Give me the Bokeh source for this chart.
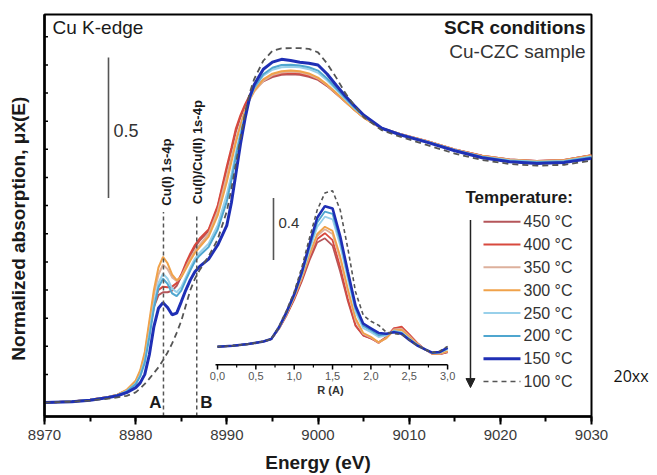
from bokeh.plotting import figure
from bokeh.models import (Range1d, Label, Arrow, NormalHead, SingleIntervalTicker, FixedTicker,
                          LinearAxis)
from bokeh.core.properties import value
from bokeh.embed import file_html
from bokeh.resources import INLINE

# ---------------- data ----------------
energy = [8970, 8973, 8975, 8977, 8978, 8979, 8980, 8980.5, 8981, 8981.5, 8982, 8982.5,
          8983, 8983.5, 8984, 8984.5, 8985, 8985.5, 8986, 8986.5, 8987, 8988, 8989, 8990,
          8990.5, 8991, 8991.5, 8992, 8992.5, 8993, 8994, 8995, 8996, 8997, 8998, 8999,
          9000, 9001, 9002, 9003, 9004, 9005, 9007, 9009, 9012, 9015, 9018, 9021, 9024,
          9027, 9030]

xanes_450 = [0.000, 0.004, 0.010, 0.019, 0.027, 0.041, 0.070, 0.102, 0.158, 0.250, 0.340, 0.382,
             0.392, 0.392, 0.398, 0.415, 0.448, 0.488, 0.523, 0.553, 0.575, 0.610, 0.695, 0.830,
             0.895, 0.965, 1.015, 1.055, 1.088, 1.112, 1.142, 1.157, 1.165, 1.167, 1.165, 1.158,
             1.147, 1.125, 1.098, 1.069, 1.041, 1.014, 0.975, 0.955, 0.929, 0.900, 0.877, 0.864,
             0.859, 0.862, 0.879]
xanes_400 = [0.000, 0.004, 0.010, 0.020, 0.028, 0.042, 0.072, 0.105, 0.162, 0.258, 0.355, 0.400,
             0.412, 0.410, 0.412, 0.425, 0.455, 0.495, 0.530, 0.560, 0.582, 0.615, 0.700, 0.840,
             0.905, 0.975, 1.022, 1.060, 1.092, 1.118, 1.147, 1.162, 1.170, 1.172, 1.170, 1.162,
             1.150, 1.127, 1.099, 1.070, 1.041, 1.014, 0.975, 0.955, 0.929, 0.900, 0.877, 0.864,
             0.859, 0.862, 0.879]
xanes_350 = [0.000, 0.004, 0.010, 0.020, 0.028, 0.044, 0.075, 0.110, 0.172, 0.278, 0.385, 0.455,
             0.490, 0.475, 0.445, 0.432, 0.448, 0.480, 0.512, 0.540, 0.560, 0.600, 0.680, 0.805,
             0.870, 0.935, 0.990, 1.038, 1.076, 1.105, 1.143, 1.164, 1.173, 1.176, 1.174, 1.166,
             1.152, 1.128, 1.099, 1.069, 1.040, 1.013, 0.974, 0.954, 0.928, 0.899, 0.876, 0.863,
             0.858, 0.861, 0.877]
xanes_300 = [0.000, 0.004, 0.010, 0.020, 0.028, 0.045, 0.078, 0.115, 0.180, 0.290, 0.400, 0.480,
             0.518, 0.495, 0.455, 0.435, 0.445, 0.475, 0.505, 0.532, 0.552, 0.590, 0.665, 0.785,
             0.855, 0.925, 0.985, 1.036, 1.077, 1.108, 1.149, 1.169, 1.178, 1.180, 1.178, 1.170,
             1.155, 1.130, 1.100, 1.070, 1.040, 1.013, 0.974, 0.954, 0.928, 0.899, 0.876, 0.863,
             0.858, 0.861, 0.878]
xanes_250 = [0.000, 0.004, 0.009, 0.019, 0.026, 0.040, 0.068, 0.098, 0.150, 0.245, 0.350, 0.425,
             0.458, 0.440, 0.405, 0.392, 0.410, 0.445, 0.480, 0.512, 0.532, 0.565, 0.630, 0.740,
             0.810, 0.890, 0.960, 1.025, 1.080, 1.118, 1.162, 1.183, 1.192, 1.194, 1.192, 1.185,
             1.172, 1.145, 1.112, 1.078, 1.046, 1.017, 0.975, 0.954, 0.927, 0.898, 0.874, 0.861,
             0.856, 0.859, 0.875]
xanes_200 = [0.000, 0.004, 0.009, 0.019, 0.026, 0.039, 0.065, 0.093, 0.142, 0.232, 0.335, 0.410,
             0.440, 0.422, 0.388, 0.378, 0.398, 0.435, 0.470, 0.502, 0.522, 0.553, 0.615, 0.715,
             0.790, 0.875, 0.950, 1.020, 1.080, 1.120, 1.167, 1.190, 1.200, 1.201, 1.198, 1.192,
             1.180, 1.152, 1.117, 1.082, 1.049, 1.019, 0.975, 0.953, 0.926, 0.897, 0.873, 0.859,
             0.854, 0.857, 0.872]
xanes_150 = [0.000, 0.003, 0.008, 0.018, 0.024, 0.035, 0.053, 0.070, 0.100, 0.170, 0.270, 0.335,
             0.355, 0.338, 0.312, 0.318, 0.358, 0.400, 0.436, 0.465, 0.483, 0.510, 0.560, 0.630,
             0.710, 0.815, 0.920, 1.010, 1.085, 1.130, 1.185, 1.210, 1.220, 1.216, 1.210, 1.206,
             1.200, 1.168, 1.128, 1.090, 1.055, 1.022, 0.975, 0.952, 0.925, 0.895, 0.870, 0.856,
             0.850, 0.853, 0.868]
xanes_100 = [0.000, 0.003, 0.007, 0.014, 0.018, 0.024, 0.036, 0.050, 0.066, 0.085, 0.105, 0.125,
             0.150, 0.178, 0.210, 0.248, 0.290, 0.345, 0.400, 0.440, 0.470, 0.520, 0.580, 0.680,
             0.760, 0.850, 0.940, 1.030, 1.100, 1.150, 1.215, 1.250, 1.259, 1.260, 1.260, 1.257,
             1.245, 1.205, 1.155, 1.100, 1.055, 1.015, 0.968, 0.945, 0.915, 0.885, 0.862, 0.848,
             0.842, 0.845, 0.860]

r_dist = [0.0, 0.2, 0.4, 0.6, 0.7, 0.8, 0.9, 1.0, 1.1, 1.2, 1.3, 1.4, 1.5, 1.6, 1.7, 1.8, 1.9,
          2.0, 2.1, 2.2, 2.3, 2.4, 2.5, 2.6, 2.7, 2.8, 2.9, 3.0]
ft_450 = [0.116, 0.122, 0.133, 0.150, 0.165, 0.230, 0.318, 0.420, 0.540, 0.675, 0.790, 0.817, 0.770,
          0.600, 0.410, 0.250, 0.188, 0.170, 0.145, 0.178, 0.235, 0.240, 0.192, 0.140, 0.100, 0.070,
          0.068, 0.080]
ft_400 = [0.116, 0.122, 0.133, 0.150, 0.165, 0.232, 0.322, 0.428, 0.550, 0.690, 0.812, 0.850, 0.805,
          0.630, 0.425, 0.255, 0.190, 0.170, 0.140, 0.175, 0.235, 0.245, 0.195, 0.142, 0.100, 0.070,
          0.068, 0.082]
ft_350 = [0.116, 0.122, 0.133, 0.150, 0.165, 0.233, 0.326, 0.435, 0.560, 0.705, 0.832, 0.876, 0.845,
          0.680, 0.470, 0.285, 0.198, 0.175, 0.142, 0.172, 0.228, 0.232, 0.185, 0.138, 0.100, 0.072,
          0.070, 0.085]
ft_300 = [0.116, 0.122, 0.133, 0.150, 0.165, 0.234, 0.328, 0.438, 0.565, 0.715, 0.845, 0.892, 0.865,
          0.700, 0.490, 0.300, 0.205, 0.180, 0.145, 0.170, 0.222, 0.225, 0.180, 0.135, 0.100, 0.072,
          0.072, 0.088]
ft_250 = [0.116, 0.122, 0.133, 0.150, 0.165, 0.236, 0.332, 0.445, 0.580, 0.740, 0.890, 0.957, 0.940,
          0.770, 0.550, 0.340, 0.235, 0.210, 0.178, 0.190, 0.218, 0.210, 0.170, 0.130, 0.100, 0.075,
          0.078, 0.100]
ft_200 = [0.116, 0.122, 0.133, 0.150, 0.165, 0.238, 0.335, 0.450, 0.590, 0.760, 0.920, 0.990, 0.975,
          0.800, 0.575, 0.360, 0.250, 0.222, 0.190, 0.195, 0.215, 0.205, 0.165, 0.128, 0.100, 0.075,
          0.080, 0.105]
ft_150 = [0.116, 0.122, 0.133, 0.150, 0.165, 0.240, 0.340, 0.455, 0.600, 0.780, 0.950, 1.025, 1.010,
          0.830, 0.600, 0.380, 0.265, 0.235, 0.205, 0.200, 0.210, 0.200, 0.160, 0.125, 0.100, 0.078,
          0.082, 0.110]
ft_100 = [0.116, 0.122, 0.133, 0.150, 0.165, 0.245, 0.350, 0.470, 0.630, 0.820, 1.000, 1.110, 1.125,
          1.000, 0.750, 0.470, 0.320, 0.280, 0.255, 0.210, 0.200, 0.195, 0.160, 0.125, 0.100, 0.078,
          0.088, 0.118]

temps = ["450 °C", "400 °C", "350 °C", "300 °C", "250 °C", "200 °C", "150 °C", "100 °C"]
xanes = [xanes_450, xanes_400, xanes_350, xanes_300, xanes_250, xanes_200, xanes_150, xanes_100]
fts = [ft_450, ft_400, ft_350, ft_300, ft_250, ft_200, ft_150, ft_100]
colors = ["#b5565a", "#d8493e", "#ddb09c", "#f0a24a", "#98d0ea", "#4fa6cf", "#1f2fb5", "#555555"]

x_ticks_major = 10
y_ticks = [0.0, 0.1, 0.2, 0.3, 0.4, 0.5, 0.6, 0.7, 0.8, 0.9, 1.0, 1.1, 1.2, 1.3]
inset_ticks = [0.0, 0.5, 1.0, 1.5, 2.0, 2.5, 3.0]
inset_minor = [0.25, 0.75, 1.25, 1.75, 2.25, 2.75]
inset_tick_labels = ["0,0", "0,5", "1,0", "1,5", "2,0", "2,5", "3,0"]
peak_a = 8983.05
peak_b = 8986.7
side_note = "20xx"

# ---------------- helpers: reference-pixel -> data ----------------
def ex(px):
    return 8970 + (px - 44) / 9.117

def my(py):
    return (403 - py) / 282.0

def rx(px):
    return (px - 217) / 76.7

def fy(py):
    return (365 - py) / 155.0

FONT = "Liberation Sans"

p = figure(width=657, height=475, output_backend="svg", toolbar_location=None,
           x_range=Range1d(8970, 9030), y_range=Range1d(my(417), my(14)),
           min_border_left=44, min_border_right=66, min_border_top=14, min_border_bottom=58)
p.extra_x_ranges = {"r": Range1d(rx(44), rx(591))}
p.extra_y_ranges = {"ft": Range1d(fy(417), fy(14)), "px": Range1d(0, 403)}
p.grid.visible = False
p.outline_line_color = "black"
p.outline_line_width = 2
p.outline_line_alpha = 1
p.background_fill_color = "white"
p.border_fill_color = "white"

xa = p.xaxis[0]
xa.ticker = SingleIntervalTicker(interval=x_ticks_major, num_minor_ticks=2)
xa.major_tick_out = 8
xa.major_tick_in = 0
xa.minor_tick_out = 5
xa.minor_tick_in = 0
xa.axis_line_width = 2.5
xa.major_tick_line_width = 2
xa.minor_tick_line_width = 2
xa.major_label_text_font = FONT
xa.major_label_text_font_size = "15px"
xa.major_label_text_color = "#3a3a3a"
xa.major_label_standoff = 5
xa.axis_label = "Energy (eV)"
xa.axis_label_text_font = FONT
xa.axis_label_text_font_size = "19px"
xa.axis_label_text_font_style = "bold"
xa.axis_label_text_color = "#1a1a1a"
xa.axis_label_standoff = 9

ya = p.yaxis[0]
ya.ticker = FixedTicker(ticks=[])
ya.axis_line_width = 2.5
ya.axis_label = "Normalized absorption, \u03bcx(E)" + "\u00a0" * 5
ya.axis_label_text_font = FONT
ya.axis_label_text_font_size = "19px"
ya.axis_label_text_font_style = "bold"
ya.axis_label_text_color = "#1a1a1a"
ya.axis_label_standoff = 16

# right-hand side note (outside the frame)
ra = LinearAxis(y_range_name="px", ticker=FixedTicker(ticks=[41]),
                major_label_overrides={41: side_note})
ra.axis_line_color = None
ra.major_tick_line_color = None
ra.minor_tick_line_color = None
ra.major_tick_out = 0
ra.major_tick_in = 0
ra.major_label_standoff = 22
ra.major_label_text_font = "Open Sans"
ra.major_label_text_font_size = "16px"
ra.major_label_text_color = "#111111"
p.add_layout(ra, "right")

# small y ticks on the frame edge
p.segment(x0=[ex(44)] * len(y_ticks), y0=y_ticks, x1=[ex(47.5)] * len(y_ticks), y1=y_ticks,
          line_color="black", line_width=1.5)

# ---- main XANES curves ----
for i, (vals, c) in enumerate(zip(xanes, colors)):
    if i == 7:
        p.line(energy, vals, line_color=c, line_width=1.8, line_dash="6 4")
    else:
        p.line(energy, vals, line_color=c, line_width=3 if i == 6 else 2)

# ---- inset FT curves ----
for i, (vals, c) in enumerate(zip(fts, colors)):
    if i == 7:
        p.line(r_dist, vals, line_color=c, line_width=1.6, line_dash="4 3",
               x_range_name="r", y_range_name="ft")
    else:
        p.line(r_dist, vals, line_color=c, line_width=2.6 if i == 6 else 1.8,
               x_range_name="r", y_range_name="ft")

# inset axis
p.segment(x0=[rx(215)], y0=[0], x1=[3.0], y1=[0], line_color="black", line_width=1.5,
          x_range_name="r", y_range_name="ft")
p.segment(x0=inset_ticks, y0=[0] * len(inset_ticks), x1=inset_ticks,
          y1=[fy(370)] * len(inset_ticks), line_color="black", line_width=1.5,
          x_range_name="r", y_range_name="ft")
p.segment(x0=inset_minor, y0=[0] * len(inset_minor), x1=inset_minor,
          y1=[fy(368)] * len(inset_minor),
          line_color="black", line_width=1.2, x_range_name="r", y_range_name="ft")
p.text(x=inset_ticks, y=[fy(376)] * len(inset_ticks), text=inset_tick_labels,
       text_font=value(FONT), text_font_size="11px", text_color="#555555",
       text_align="center", text_baseline="middle", x_range_name="r", y_range_name="ft")
p.text(x=[rx(330)], y=[fy(390)], text=["R (A)"], text_font=value(FONT), text_font_size="11px",
       text_font_style="bold", text_color="#333333", text_align="center",
       text_baseline="middle", x_range_name="r", y_range_name="ft")

# scale bars
p.segment(x0=[ex(108)], y0=[my(57)], x1=[ex(108)], y1=[my(198)], line_color="#555555", line_width=1.6)
p.segment(x0=[ex(273)], y0=[my(198)], x1=[ex(273)], y1=[my(260)], line_color="#555555", line_width=1.6)

# vertical dashed lines A and B
p.segment(x0=[peak_a, peak_b], y0=[my(417), my(417)], x1=[peak_a, peak_b], y1=[my(212), my(215)],
          line_color="#555555", line_width=1.5, line_dash="4 3")

def lab(text, px, py, size, bold=False, align="left", baseline="middle", angle=0,
        color="#1a1a1a", font=FONT):
    p.add_layout(Label(x=ex(px), y=my(py), text=text, text_font=font,
                       text_font_size=f"{size}px",
                       text_font_style="bold" if bold else "normal",
                       text_align=align, text_baseline=baseline, angle=angle,
                       text_color=color))

lab("Cu K-edge", 52, 27, 19)
lab("SCR conditions", 585, 27, 19, bold=True, align="right")
lab("Cu-CZC sample", 585, 51, 19, align="right", color="#333333")
lab("0.5", 113, 130, 18, color="#333333")
lab("0.4", 278, 223, 15, color="#333333")
lab("Cu(I) 1s-4p", 166, 172, 13, bold=True, align="center", angle=1.5708)
lab("Cu(I)/Cu(II) 1s-4p", 197, 152, 13, bold=True, align="center", angle=1.5708)
lab("A", 155, 403, 17, bold=True, align="center")
lab("B", 206, 403, 17, bold=True, align="center")

# legend
lab("Temperature:", 465, 197, 17, bold=True)
for i, (t, c) in enumerate(zip(temps, colors)):
    yy = my(221.7 + i * 22.9)
    if i == 7:
        p.segment(x0=[ex(483)], y0=[yy], x1=[ex(520)], y1=[yy], line_color=c, line_width=1.5,
                  line_dash="5 4")
    else:
        p.segment(x0=[ex(483)], y0=[yy], x1=[ex(520)], y1=[yy], line_color=c,
                  line_width=3 if i == 6 else 2)
    lab(t, 523, 221.7 + i * 22.9, 16, color="#333333")
p.add_layout(Arrow(x_start=ex(470), y_start=my(220), x_end=ex(470), y_end=my(388),
                   line_color="#222222", line_width=1.5,
                   end=NormalHead(size=9, fill_color="#222222", line_color="#222222")))

open("out.html", "w").write(file_html(p, INLINE))
